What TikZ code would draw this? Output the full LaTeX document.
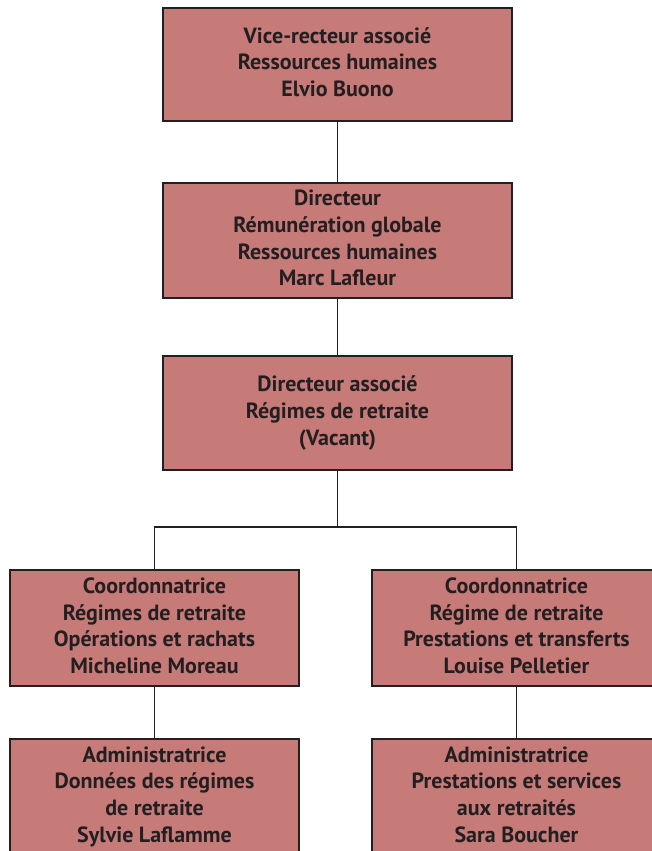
\documentclass[tikz,border=0pt]{standalone}
\usepackage{fontspec}
\setmainfont{PT Sans}
\definecolor{boxfill}{RGB}{199,123,121}
\definecolor{ink}{RGB}{35,31,32}
\newcommand\boxstrut{\rule[-5pt]{0pt}{26pt}}
\begin{document}
\begin{tikzpicture}[x=1pt,y={(0pt,-1pt)},
  orgbox/.style={draw=ink,line width=1.8pt,fill=boxfill,text=ink,align=center,
    inner sep=0pt,font=\fontsize{22}{26.7}\selectfont\bfseries,
    execute at begin node=\boxstrut, execute at end node=\boxstrut,
    minimum width=#1},
  orgbox/.default=349pt,
  link/.style={draw=ink,line width=1.2pt}]
\useasboundingbox (0,0) rectangle (652,851);
\node[orgbox,minimum height=113pt] (a) at (337.5,64.5) {Vice-recteur associé\\Ressources humaines\\Elvio Buono};
\node[orgbox,minimum height=115pt] (b) at (337.5,240.5) {Directeur\\Rémunération globale\\Ressources humaines\\Marc Lafleur};
\node[orgbox,minimum height=114pt] (c) at (337.5,413) {Directeur associé\\Régimes de retraite\\(Vacant)};
\node[orgbox=289pt,minimum height=116pt] (d) at (154.5,628) {Coordonnatrice\\Régimes de retraite\\Opérations et rachats\\Micheline Moreau};
\node[orgbox=289pt,minimum height=116pt] (e) at (516.5,628) {Coordonnatrice\\Régime de retraite\\Prestations et transferts\\Louise Pelletier};
\node[orgbox=289pt,minimum height=116pt] (f) at (154.5,797) {Administratrice\\Données des régimes\\de retraite\\Sylvie Laflamme};
\node[orgbox=289pt,minimum height=116pt] (g) at (516.5,797) {Administratrice\\Prestations et services\\aux retraités\\Sara Boucher};
\coordinate (j) at (337.5,527);
\draw[link] (a.south) -- (b.north);
\draw[link] (b.south) -- (c.north);
\draw[link] (c.south) -- (j);
\draw[link] (d.north) |- (j) -| (e.north);
\draw[link] (d.south) -- (f.north);
\draw[link] (e.south) -- (g.north);
\end{tikzpicture}
\end{document}
